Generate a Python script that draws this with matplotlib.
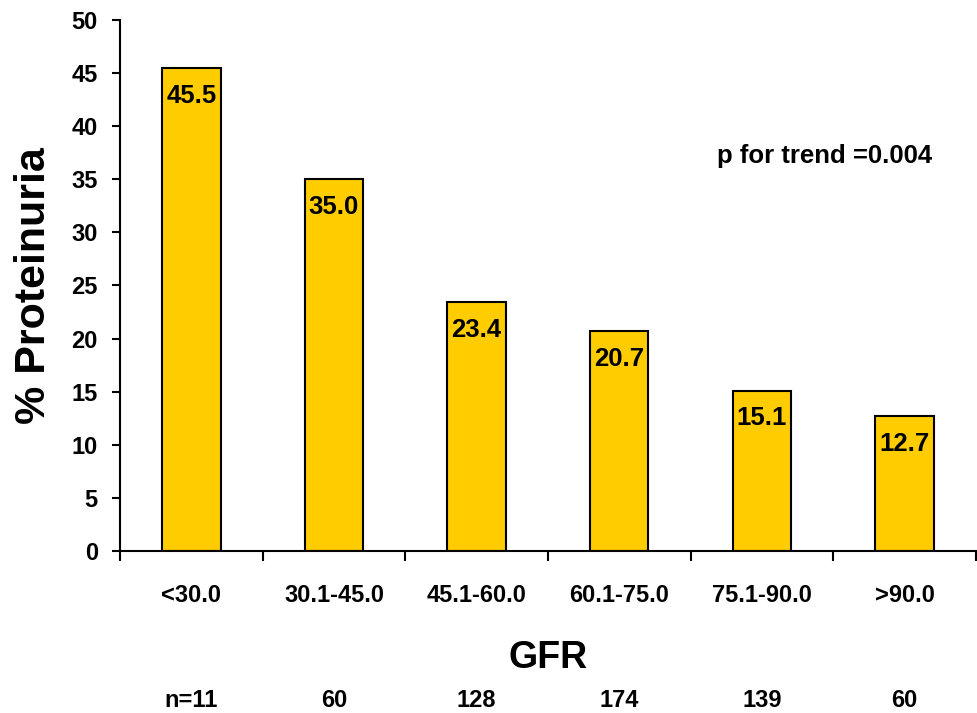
import matplotlib
matplotlib.use('Agg')
import matplotlib.pyplot as plt
import numpy as np

# data
gfrGroups = ['<30.0', '30.1-45.0', '45.1-60.0', '60.1-75.0', '75.1-90.0', '>90.0']
proteinuria = [45.5, 35.0, 23.4, 20.7, 15.1, 12.7]
nLabels = ['n=11', '60', '128', '174', '139', '60']

plt.rcParams['font.family'] = ['Liberation Sans', 'DejaVu Sans']
plt.rcParams['font.weight'] = 'bold'

fig = plt.figure(figsize=(9.77, 7.13), dpi=100)
ax = fig.add_axes([0.1228, 0.2272, 0.876, 0.7448])

x = np.arange(len(gfrGroups))
bars = ax.bar(x, proteinuria, width=0.41, color='#FFCC00', edgecolor='black', linewidth=1.5)

# value labels just inside the bar tops
for xi, v in zip(x, proteinuria):
    ax.annotate(f'{v:.1f}', (xi, v), xytext=(0, -20), textcoords='offset points',
                ha='center', va='center', fontsize=18.5, fontweight='bold')

ax.set_xlim(-0.5, len(gfrGroups) - 0.5)
ax.set_ylim(0, 50)
ax.set_yticks(np.arange(0, 51, 5))
ax.tick_params(axis='y', direction='out', length=6, width=1.5, pad=10, labelsize=17)

# major ticks at the category boundaries, labels on minor ticks at the centres
ax.set_xticks(np.arange(-0.5, len(gfrGroups), 1.0))
ax.set_xticklabels([])
ax.set_xticks(x, minor=True)
ax.set_xticklabels(gfrGroups, minor=True, fontsize=17, fontweight='bold')
ax.tick_params(axis='x', which='major', direction='out', length=7, width=1.5)
ax.tick_params(axis='x', which='minor', length=0, pad=24)

for side in ['top', 'right']:
    ax.spines[side].set_visible(False)
for side in ['left', 'bottom']:
    ax.spines[side].set_linewidth(1.5)

ax.set_ylabel('% Proteinuria', fontsize=31, fontweight='bold')
ax.yaxis.set_label_coords(-0.077, 0.5)

ax.text(0.5, -0.2015, 'GFR', transform=ax.transAxes, ha='center', va='center',
        fontsize=27, fontweight='bold')

trans = matplotlib.transforms.blended_transform_factory(ax.transData, ax.transAxes)
for xi, lab in zip(x, nLabels):
    ax.text(xi, -0.281, lab, transform=trans, ha='center', va='center',
            fontsize=17, fontweight='bold')

ax.text(4.437, 37.2, 'p for trend =0.004', ha='center', va='center',
        fontsize=18.5, fontweight='bold')

fig.savefig('out.png', dpi=100)
